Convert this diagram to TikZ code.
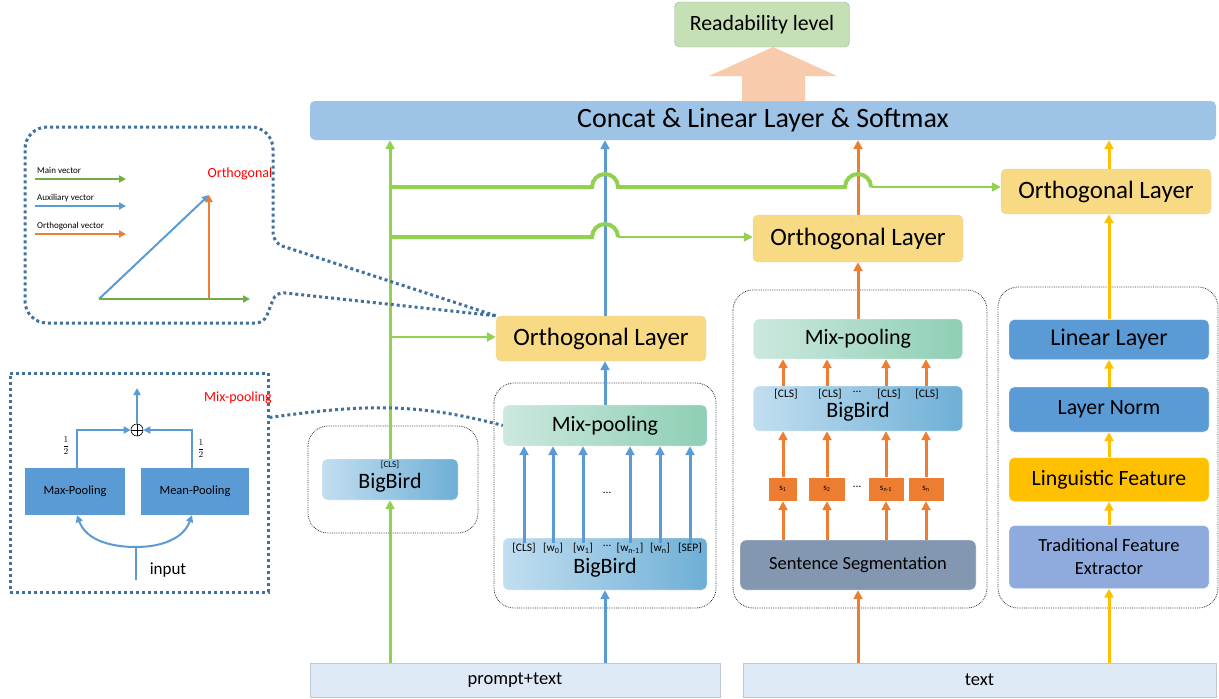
\documentclass[tikz,border=0pt]{standalone}
\usepackage{fontspec}
\setmainfont{Carlito}
\usetikzlibrary{arrows.meta}

\definecolor{grn}{RGB}{146,208,80}
\definecolor{vgrn}{RGB}{112,173,71}
\definecolor{blu}{RGB}{91,155,213}
\definecolor{org}{RGB}{237,125,49}
\definecolor{ylw}{RGB}{255,192,0}
\definecolor{orthfill}{RGB}{248,218,132}
\definecolor{orthline}{RGB}{225,215,190}
\definecolor{bbl}{RGB}{194,222,240}
\definecolor{bbr}{RGB}{110,175,214}
\definecolor{mxl}{RGB}{204,232,222}
\definecolor{mxr}{RGB}{142,207,180}
\definecolor{concatfill}{RGB}{157,195,230}
\definecolor{readfill}{RGB}{197,224,180}
\definecolor{readline}{RGB}{170,170,170}
\definecolor{peach}{RGB}{248,203,173}
\definecolor{segfill}{RGB}{132,151,176}
\definecolor{tradfill}{RGB}{143,170,220}
\definecolor{infill}{RGB}{222,235,247}
\definecolor{inline}{RGB}{190,200,212}
\definecolor{callc}{RGB}{65,113,156}

\begin{document}
\begin{tikzpicture}[x=1pt, y=-1pt,
  every node/.style={inner sep=0pt, align=center},
  ortho/.style={draw=orthline, fill=orthfill, rounded corners=5pt, minimum width=210pt, minimum height=45pt, font=\fontsize{25pt}{25pt}\selectfont},
  bigbird/.style={left color=bbl, right color=bbr, draw=white, rounded corners=5pt},
  mixpool/.style={left color=mxl, right color=mxr, draw=white, rounded corners=5pt, font=\fontsize{22pt}{22pt}\selectfont},
  feat/.style={draw=white, rounded corners=5pt, minimum width=200pt, font=\fontsize{21.8pt}{21.8pt}\selectfont},
  grp/.style={draw=black!80, densely dotted, line width=0.8pt, rounded corners=20pt},
  callout/.style={draw=callc, line width=3pt, dash pattern=on 3pt off 3pt},
  arr/.style={-{Triangle[length=9pt,width=9pt]}},
  sarr/.style={-{Triangle[length=7pt,width=7pt]}},
  gline/.style={draw=grn, line width=3pt},
  bline/.style={draw=blu, line width=3pt},
  oline/.style={draw=org, line width=3pt},
  yline/.style={draw=ylw, line width=3pt},
  sbox/.style={fill=org, draw=white, minimum height=24pt, font=\fontsize{9pt}{9pt}\selectfont},
  tok/.style={font=\fontsize{11.5pt}{11.5pt}\selectfont}
]
\useasboundingbox (0,0) rectangle (1219,699);

% output
\node[draw=readline, fill=readfill, rounded corners=5pt, minimum width=175pt, minimum height=45pt, font=\fontsize{21.8pt}{21.8pt}\selectfont] (read) at (762,24.5) {Readability level};
\node[fill=concatfill, rounded corners=5pt, minimum width=906pt, minimum height=39pt, font=\fontsize{28pt}{28pt}\selectfont] (concat) at (763,120.5) {Concat \& Linear Layer \& Softmax};
\fill[peach] (742,101) -- (742,76) -- (709,76) -- (773,47) -- (837,76) -- (805,76) -- (805,101) -- cycle;

% inputs
\node[draw=inline, fill=infill, minimum width=410pt, minimum height=34pt, font=\fontsize{18.5pt}{18.5pt}\selectfont] (pt) at (515,680) {prompt+text};
\node[draw=inline, fill=infill, minimum width=473pt, minimum height=34pt, font=\fontsize{18.5pt}{18.5pt}\selectfont] (tx) at (979.5,680) {text};

% groups
\draw[grp] (308,426) rectangle (478,533);
\draw[grp] (494,383) rectangle (716,608);
\draw[grp] (733,290) rectangle (987,608);
\draw[grp] (998,287) rectangle (1218,608);

% prompt branch
\node[bigbird, minimum width=136pt, minimum height=41pt] (bb1) at (390,479.5) {};
\node[font=\fontsize{9pt}{9pt}\selectfont] (cls1) at (390,465) {[CLS]};
\node[font=\fontsize{22pt}{22pt}\selectfont] (bbt1) at (390,483) {BigBird};

\node[ortho] (orth1) at (601,338.5) {Orthogonal Layer};
\node[mixpool, minimum width=204pt, minimum height=41pt] (mix2) at (605,425.5) {Mix-pooling};
\node[bigbird, minimum width=204pt, minimum height=52pt] (bb2) at (605,564) {};
\node[font=\fontsize{22pt}{22pt}\selectfont] (bbt2) at (605,568) {BigBird};
\node[tok] (t1) at (524,548) {[CLS]};
\node[tok] (t2) at (553,548) {[w\textsubscript{0}]};
\node[tok] (t3) at (583,548) {[w\textsubscript{1}]};
\node[tok] (t4) at (630,548) {[w\textsubscript{n-1}]};
\node[tok] (t5) at (660,548) {[w\textsubscript{n}]};
\node[tok] (t6) at (690,548) {[SEP]};
\node[tok] (td) at (607,546) {\dots};
\node[tok] (td2) at (607,493) {\dots};
\foreach \i in {1,...,6}
  \draw[bline, arr] (t\i.north) -- (t\i.north |- mix2.south);
\draw[bline, arr] (pt.north -| bb2.south) -- (bb2.south);
\draw[bline, arr] (mix2.north) -- (mix2.north |- orth1.south);
\draw[bline, arr] (mix2.north |- orth1.north) -- (mix2.north |- concat.south);

% sentence branch
\node[ortho, minimum height=47pt] (orth2) at (858,238.5) {Orthogonal Layer};
\node[mixpool, minimum width=209pt, minimum height=40pt] (mix3) at (858,339) {Mix-pooling};
\node[bigbird, minimum width=209pt, minimum height=45pt] (bb3) at (858,408.5) {};
\node[font=\fontsize{22pt}{22pt}\selectfont] (bbt3) at (858,412) {BigBird};
\node[tok] (c1) at (786,394) {[CLS]};
\node[tok] (c2) at (830,394) {[CLS]};
\node[tok] (c3) at (889,394) {[CLS]};
\node[tok] (c4) at (927,394) {[CLS]};
\node[tok] (cd) at (857,392) {\dots};
\node[sbox, minimum width=29pt] (s1) at (783,489) {s\textsubscript{1}};
\node[sbox, minimum width=37pt] (s2) at (827,489) {s\textsubscript{2}};
\node[sbox, minimum width=36pt] (s3) at (886,489) {s\textsubscript{n-1}};
\node[sbox, minimum width=36pt] (s4) at (926,489) {s\textsubscript{n}};
\node[tok] (sd) at (857,487) {\dots};
\node[fill=segfill, draw=white, rounded corners=6pt, minimum width=236pt, minimum height=50pt, font=\fontsize{18.5pt}{18.5pt}\selectfont] (seg) at (858,565) {Sentence Segmentation};
\foreach \i in {1,...,4} {
  \draw[oline, arr] (seg.north -| s\i) -- (s\i.south);
  \draw[oline, arr] (s\i.north) -- (s\i |- bb3.south);
  \draw[oline, arr] (bb3.north -| s\i) -- (s\i |- mix3.south);
}
\draw[oline, arr] (tx.north -| seg.south) -- (seg.south);
\draw[oline, arr] (mix3.north) -- (orth2.south);
\draw[oline, arr] (orth2.north) -- (orth2.north |- concat.south);

% feature branch
\node[ortho] (orth3) at (1106,191.5) {Orthogonal Layer};
\node[feat, fill=blu, minimum height=40pt, font=\fontsize{24pt}{24pt}\selectfont] (lin) at (1109,339.5) {Linear Layer};
\node[feat, fill=blu, minimum height=45pt] (norm) at (1109,409.5) {Layer Norm};
\node[feat, fill=ylw, minimum height=44pt] (ling) at (1109,479.5) {Linguistic Feature};
\node[feat, fill=tradfill, minimum height=63pt, font=\fontsize{18.5pt}{23pt}\selectfont] (trad) at (1109,557) {Traditional Feature\\Extractor};
\draw[yline, arr] (tx.north -| trad.south) -- (trad.south);
\draw[yline, arr] (trad.north) -- (ling.south);
\draw[yline, arr] (ling.north) -- (norm.south);
\draw[yline, arr] (norm.north) -- (lin.south);
\draw[yline, arr] (lin.north) -- (lin.north |- orth3.south);
\draw[yline, arr] (lin.north |- orth3.north) -- (lin.north |- concat.south);

% main vector lines
\draw[gline, arr] (bb1.south |- pt.north) -- (bb1.south);
\draw[gline, arr] (bb1.north) -- (bb1.north |- concat.south);
\coordinate (g1) at (390,187);
\coordinate (g2) at (390,237);
\coordinate (g3) at (390,337);
\draw[gline, line width=4pt] (g1) -- (592,187) arc[start angle=180, end angle=0, radius=13pt] -- (845,187) arc[start angle=180, end angle=0, radius=13pt];
\draw[gline, line width=2pt, arr] (871,187) -- (g1 -| orth3.west);
\draw[gline, line width=4pt] (g2) -- (592,237) arc[start angle=180, end angle=0, radius=13pt];
\draw[gline, line width=2pt, arr] (618,237) -- (g2 -| orth2.west);
\draw[gline, line width=2.5pt, arr] (g3) -- (g3 -| orth1.west);

% orthogonal sketch
\draw[callout] (orth1.north west) [rounded corners=10pt] -- (273,243) [rounded corners=22pt] -- (273,127) -- (25,127) -- (25,323) [rounded corners=8pt] -- (264,323) -- (276,292) -- (orth1.north west);
\node[anchor=west, font=\fontsize{9pt}{9pt}\selectfont] (lg1) at (37,170) {Main vector};
\node[anchor=west, font=\fontsize{9pt}{9pt}\selectfont] (lg2) at (37,198) {Auxiliary vector};
\node[anchor=west, font=\fontsize{9pt}{9pt}\selectfont] (lg3) at (37,226) {Orthogonal vector};
\draw[vgrn, line width=2pt, sarr] ([yshift=-9pt, xshift=-2pt]lg1.west) -- ++(91,0);
\draw[blu, line width=2pt, sarr] ([yshift=-8pt, xshift=-2pt]lg2.west) -- ++(91,0);
\draw[org, line width=2pt, sarr] ([yshift=-8pt, xshift=-2pt]lg3.west) -- ++(91,0);
\node[text=red, font=\fontsize{14pt}{14pt}\selectfont] (orthtitle) at (240,174) {Orthogonal};
\coordinate (vo) at (99,299);
\coordinate (vp) at (209,195);
\coordinate (vf) at (209,299);
\coordinate (vq) at (250,299);
\draw[blu, line width=2pt, sarr] (vo) -- (vp);
\draw[org, line width=2pt, sarr] (vf) -- (vp);
\draw[vgrn, line width=2.5pt, sarr] (vo) -- (vq);

% mix-pooling sketch
\node[callout, minimum width=258pt, minimum height=219pt] (mpbox) at (139,482.5) {};
\draw[callout] ([yshift=65pt]mpbox.east) to[out=8, in=165] (mix2.west);
\node[fill=blu, minimum width=100pt, minimum height=47pt, font=\fontsize{12.5pt}{12.5pt}\selectfont] (maxp) at (75,491.5) {Max-Pooling};
\node[fill=blu, minimum width=108pt, minimum height=47pt, font=\fontsize{12.5pt}{12.5pt}\selectfont] (meanp) at (195,491.5) {Mean-Pooling};
\node[circle, draw, line width=0.6pt, minimum size=12pt] (oplus) at (137,430) {};
\draw[line width=0.6pt] (oplus.north) -- (oplus.south) (oplus.west) -- (oplus.east);
\draw[blu, line width=2pt, sarr] ([xshift=2pt]maxp.north) |- (oplus.west);
\draw[blu, line width=2pt, sarr] ([xshift=-3pt]meanp.north) |- (oplus.east);
\coordinate (mpout) at (137,388);
\draw[blu, line width=2pt, sarr] (oplus.north) -- (mpout);
\node[font=\fontsize{9pt}{9pt}\selectfont] (h1) at (66,446) {$\displaystyle\frac{1}{2}$};
\node[font=\fontsize{9pt}{9pt}\selectfont] (h2) at (201,449) {$\displaystyle\frac{1}{2}$};
\node[text=red, font=\fontsize{14pt}{14pt}\selectfont] (mptitle) at (238,398) {Mix-pooling};
\coordinate (inp) at (136,580);
\coordinate (split) at (136,547);
\draw[blu, line width=2pt] (inp) -- (split);
\draw[blu, line width=2pt, sarr] (split) to[out=180, in=-70] ([xshift=2pt]maxp.south);
\draw[blu, line width=2pt, sarr] (split) to[out=0, in=-110] ([xshift=-3pt]meanp.south);
\node[font=\fontsize{17pt}{17pt}\selectfont] (inlbl) at (168,570) {input};
\end{tikzpicture}
\end{document}
